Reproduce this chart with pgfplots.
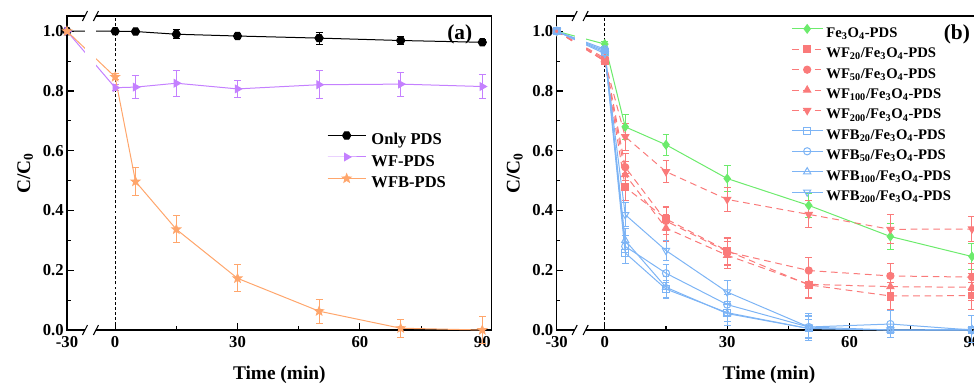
\documentclass[border=0pt]{standalone}
\usepackage{fontspec}
\setmainfont{Liberation Serif}
\usepackage{pgfplots}
\usepackage{pgfplotstable}
\pgfplotsset{compat=1.18}

\definecolor{cviolet}{RGB}{196,128,255}
\definecolor{corange}{RGB}{255,166,108}
\definecolor{cgreen}{RGB}{108,235,108}
\definecolor{cred}{RGB}{250,122,122}
\definecolor{cblue}{RGB}{125,180,245}

\pgfdeclareplotmark{fstar}{%
\pgfpathmoveto{\pgfpointpolar{90}{1.3\pgfplotmarksize}}%
\pgfpathlineto{\pgfpointpolar{126}{0.55\pgfplotmarksize}}%
\pgfpathlineto{\pgfpointpolar{162}{1.3\pgfplotmarksize}}%
\pgfpathlineto{\pgfpointpolar{198}{0.55\pgfplotmarksize}}%
\pgfpathlineto{\pgfpointpolar{234}{1.3\pgfplotmarksize}}%
\pgfpathlineto{\pgfpointpolar{270}{0.55\pgfplotmarksize}}%
\pgfpathlineto{\pgfpointpolar{306}{1.3\pgfplotmarksize}}%
\pgfpathlineto{\pgfpointpolar{342}{0.55\pgfplotmarksize}}%
\pgfpathlineto{\pgfpointpolar{18}{1.3\pgfplotmarksize}}%
\pgfpathlineto{\pgfpointpolar{54}{0.55\pgfplotmarksize}}%
\pgfpathclose\pgfusepathqfillstroke}
\pgfdeclareplotmark{hexa*}{%
\pgfpathmoveto{\pgfpointpolar{0}{\pgfplotmarksize}}%
\pgfpathlineto{\pgfpointpolar{60}{\pgfplotmarksize}}%
\pgfpathlineto{\pgfpointpolar{120}{\pgfplotmarksize}}%
\pgfpathlineto{\pgfpointpolar{180}{\pgfplotmarksize}}%
\pgfpathlineto{\pgfpointpolar{240}{\pgfplotmarksize}}%
\pgfpathlineto{\pgfpointpolar{300}{\pgfplotmarksize}}%
\pgfpathclose\pgfusepathqfillstroke}

% ---------- panel (a) ----------
\pgfplotstableread{
x y e
-30 1.000 0.000
0 1.000 0.004
5 0.999 0.006
15 0.990 0.015
30 0.984 0.008
50 0.977 0.020
70 0.969 0.015
90 0.963 0.008
}\onlypds
\pgfplotstableread{
x y e
-30 1.000 0.000
0 0.811 0.010
5 0.813 0.039
15 0.826 0.043
30 0.807 0.028
50 0.821 0.047
70 0.823 0.040
90 0.815 0.040
}\wfpds
\pgfplotstableread{
x y e
-30 1.000 0.000
0 0.847 0.010
5 0.497 0.046
15 0.337 0.045
30 0.173 0.045
50 0.063 0.040
70 0.006 0.030
90 0.000 0.045
}\wfbpds
% ---------- panel (b) ----------
\pgfplotstableread{
x y e
-30 1.000 0.000
0 0.957 0.010
5 0.680 0.042
15 0.620 0.036
30 0.507 0.045
50 0.417 0.040
70 0.313 0.042
90 0.246 0.045
}\fepds
\pgfplotstableread{
x y e
-30 1.000 0.000
0 0.900 0.010
5 0.478 0.045
15 0.372 0.040
30 0.265 0.045
50 0.151 0.045
70 0.114 0.045
90 0.115 0.045
}\wftwenty
\pgfplotstableread{
x y e
-30 1.000 0.000
0 0.910 0.010
5 0.545 0.045
15 0.365 0.045
30 0.262 0.045
50 0.199 0.043
70 0.181 0.043
90 0.177 0.045
}\wffifty
\pgfplotstableread{
x y e
-30 1.000 0.000
0 0.905 0.010
5 0.520 0.045
15 0.341 0.045
30 0.250 0.045
50 0.153 0.045
70 0.145 0.045
90 0.143 0.045
}\wfhundred
\pgfplotstableread{
x y e
-30 1.000 0.000
0 0.900 0.010
5 0.647 0.045
15 0.530 0.037
30 0.437 0.040
50 0.387 0.045
70 0.337 0.048
90 0.338 0.042
}\wftwohundred
\pgfplotstableread{
x y e
-30 1.000 0.000
0 0.930 0.010
5 0.258 0.035
15 0.137 0.030
30 0.058 0.030
50 0.005 0.030
70 0.000 0.010
90 0.000 0.010
}\wfbtwenty
\pgfplotstableread{
x y e
-30 1.000 0.000
0 0.940 0.010
5 0.280 0.035
15 0.190 0.030
30 0.085 0.035
50 0.010 0.040
70 0.020 0.045
90 0.000 0.010
}\wfbfifty
\pgfplotstableread{
x y e
-30 1.000 0.000
0 0.935 0.010
5 0.300 0.040
15 0.143 0.035
30 0.055 0.040
50 0.005 0.040
70 0.000 0.010
90 0.002 0.045
}\wfbhundred
\pgfplotstableread{
x y e
-30 1.000 0.000
0 0.925 0.010
5 0.386 0.040
15 0.266 0.035
30 0.127 0.040
50 0.010 0.045
70 0.000 0.010
90 0.000 0.010
}\wfbtwohundred

\newcommand{\tickfont}{\bfseries\fontsize{12.5}{12.5}\selectfont}
\newcommand{\labfont}{\bfseries\fontsize{14.5}{14.5}\selectfont}

\pgfplotsset{
  panel/.style={
    scale only axis, width=318.5pt, height=235.5pt,
    x coord trafo/.code={\pgfmathparse{##1<0 ? ##1*0.39333 : ##1}},
    x coord inv trafo/.code={\pgfmathparse{##1<0 ? ##1/0.39333 : ##1}},
    xmin=-30, xmax=92.3, ymin=0, ymax=1.051,
    xtick={-30,0,30,60,90}, xticklabels={-30,0,30,60,90},
    minor xtick={15,45,75},
    ytick={0,0.2,0.4,0.6,0.8,1.0}, yticklabels={0.0,0.2,0.4,0.6,0.8,1.0},
    minor ytick={0.1,0.3,0.5,0.7,0.9},
    tick align=inside, xtick pos=bottom, ytick pos=left,
    major tick length=5pt, minor tick length=2.8pt,
    axis line style={line width=1pt},
    every tick/.style={black, line width=0.8pt},
    /pgf/number format/assume math mode=true,
    ticklabel style={font=\tickfont},
    xticklabel style={yshift=-1.5pt},
    yticklabel style={xshift=1pt},
    xlabel={Time (min)}, ylabel={C/C\textsubscript{0}},
    xlabel style={font=\labfont, at={([yshift=-36.75pt]axis description cs:0.5,0)}, anchor=base},
    ylabel style={font=\labfont, at={([xshift=-27.75pt]axis description cs:0,0.5)}, anchor=base, rotate=0},
    clip=false,
  },
  errs/.style={
    /pgfplots/error bars/y dir=both,
    /pgfplots/error bars/y explicit,
    /pgfplots/error bars/error bar style={line width=0.75pt, solid},
    /pgfplots/error bars/error mark options={rotate=90, mark size=2.6pt, line width=0.75pt, solid},
  },
}

\newcommand{\axisbreak}{%
  \fill[white] (axis cs:-18.8,-0.012) rectangle (axis cs:-11.95,1.063);
  \draw[line width=0.8pt] ([xshift=-1.9pt,yshift=-3.75pt]axis cs:-18.8,0) -- ([xshift=1.9pt,yshift=3.75pt]axis cs:-18.8,0);
  \draw[line width=0.8pt] ([xshift=-1.9pt,yshift=-3.75pt]axis cs:-11.95,0) -- ([xshift=1.9pt,yshift=3.75pt]axis cs:-11.95,0);
  \draw[line width=0.8pt] ([xshift=-1.9pt,yshift=-3.75pt]axis cs:-18.8,1.051) -- ([xshift=1.9pt,yshift=3.75pt]axis cs:-18.8,1.051);
  \draw[line width=0.8pt] ([xshift=-1.9pt,yshift=-3.75pt]axis cs:-11.95,1.051) -- ([xshift=1.9pt,yshift=3.75pt]axis cs:-11.95,1.051);
}

\begin{document}
\begin{tikzpicture}
% ================= (a) =================
\begin{axis}[panel, at={(50.25pt,39.75pt)}, anchor=south west,
  legend style={draw=none, fill=none, inner sep=0pt, row sep=0pt,
    at={(0.612,0.637)}, anchor=north west,
    font=\bfseries\fontsize{12.4}{12.4}\selectfont,
    nodes={inner sep=0pt, text height=11pt, text depth=5.1pt},
    /tikz/every odd column/.append style={column sep=4pt}},
  legend cell align=left,
  legend image code/.code={\draw[mark repeat=2,mark phase=2,#1] plot coordinates {(0pt,4.1pt) (14.25pt,4.1pt) (28.5pt,4.1pt)};},
]
\addplot[black, dash pattern=on 2.2pt off 1.6pt, line width=0.7pt, forget plot] coordinates {(0,0) (0,1.051)};
\addplot[black, line width=0.75pt, mark=hexa*, mark size=3.1pt, errs] table[x=x,y=y,y error=e]{\onlypds};
\addlegendentry{Only PDS}
\addplot[cviolet, line width=0.75pt, mark=triangle*, mark size=3.2pt, mark options={rotate=-90}, errs] table[x=x,y=y,y error=e]{\wfpds};
\addlegendentry{WF-PDS}
\addplot[corange, line width=0.75pt, mark=fstar, mark size=2.6pt, errs] table[x=x,y=y,y error=e]{\wfbpds};
\addlegendentry{WFB-PDS}
\axisbreak
\node[font=\bfseries\fontsize{16}{16}\selectfont] at (rel axis cs:0.925,0.943) {(a)};
\end{axis}
% ================= (b) =================
\begin{axis}[panel, at={(417.5pt,39.75pt)}, anchor=south west,
  legend style={draw=none, fill=none, inner sep=0pt, row sep=0pt,
    at={(0.552,0.977)}, anchor=north west,
    font=\bfseries\fontsize{11}{11}\selectfont,
    nodes={inner sep=0pt, text height=10.3pt, text depth=5pt},
    /tikz/every odd column/.append style={column sep=2.5pt}},
  legend cell align=left,
  legend image code/.code={\draw[mark repeat=2,mark phase=2,#1] plot coordinates {(0pt,3.6pt) (11.5pt,3.6pt) (23pt,3.6pt)};},
]
\addplot[black, dash pattern=on 2.2pt off 1.6pt, line width=0.7pt, forget plot] coordinates {(0,0) (0,1.051)};
\addplot[cgreen, line width=0.75pt, mark=diamond*, mark size=3.2pt, errs] table[x=x,y=y,y error=e]{\fepds};
\addlegendentry{Fe\textsubscript{3}O\textsubscript{4}-PDS}
\addplot[cred, line width=0.75pt, dash pattern=on 5pt off 3.5pt, mark=square*, mark size=2.5pt, mark options={solid}, errs] table[x=x,y=y,y error=e]{\wftwenty};
\addlegendentry{WF\textsubscript{20}/Fe\textsubscript{3}O\textsubscript{4}-PDS}
\addplot[cred, line width=0.75pt, dash pattern=on 5pt off 3.5pt, mark=*, mark size=2.7pt, mark options={solid}, errs] table[x=x,y=y,y error=e]{\wffifty};
\addlegendentry{WF\textsubscript{50}/Fe\textsubscript{3}O\textsubscript{4}-PDS}
\addplot[cred, line width=0.75pt, dash pattern=on 5pt off 3.5pt, mark=triangle*, mark size=3.1pt, mark options={solid}, errs] table[x=x,y=y,y error=e]{\wfhundred};
\addlegendentry{WF\textsubscript{100}/Fe\textsubscript{3}O\textsubscript{4}-PDS}
\addplot[cred, line width=0.75pt, dash pattern=on 5pt off 3.5pt, mark=triangle*, mark size=3.1pt, mark options={solid, rotate=180}, errs] table[x=x,y=y,y error=e]{\wftwohundred};
\addlegendentry{WF\textsubscript{200}/Fe\textsubscript{3}O\textsubscript{4}-PDS}
\addplot[cblue, line width=0.75pt, mark=square, mark size=2.5pt, mark options={fill=white}, errs] table[x=x,y=y,y error=e]{\wfbtwenty};
\addlegendentry{WFB\textsubscript{20}/Fe\textsubscript{3}O\textsubscript{4}-PDS}
\addplot[cblue, line width=0.75pt, mark=o, mark size=2.7pt, mark options={fill=white}, errs] table[x=x,y=y,y error=e]{\wfbfifty};
\addlegendentry{WFB\textsubscript{50}/Fe\textsubscript{3}O\textsubscript{4}-PDS}
\addplot[cblue, line width=0.75pt, mark=triangle, mark size=3.1pt, mark options={fill=white}, errs] table[x=x,y=y,y error=e]{\wfbhundred};
\addlegendentry{WFB\textsubscript{100}/Fe\textsubscript{3}O\textsubscript{4}-PDS}
\addplot[cblue, line width=0.75pt, mark=triangle, mark size=3.1pt, mark options={fill=white, rotate=180}, errs] table[x=x,y=y,y error=e]{\wfbtwohundred};
\addlegendentry{WFB\textsubscript{200}/Fe\textsubscript{3}O\textsubscript{4}-PDS}
\axisbreak
\node[font=\bfseries\fontsize{16}{16}\selectfont] at (rel axis cs:0.9425,0.943) {(b)};
\end{axis}
\pgfresetboundingbox
\path[use as bounding box] (0,0) rectangle (730.5pt,287.25pt);
\end{tikzpicture}
\end{document}
